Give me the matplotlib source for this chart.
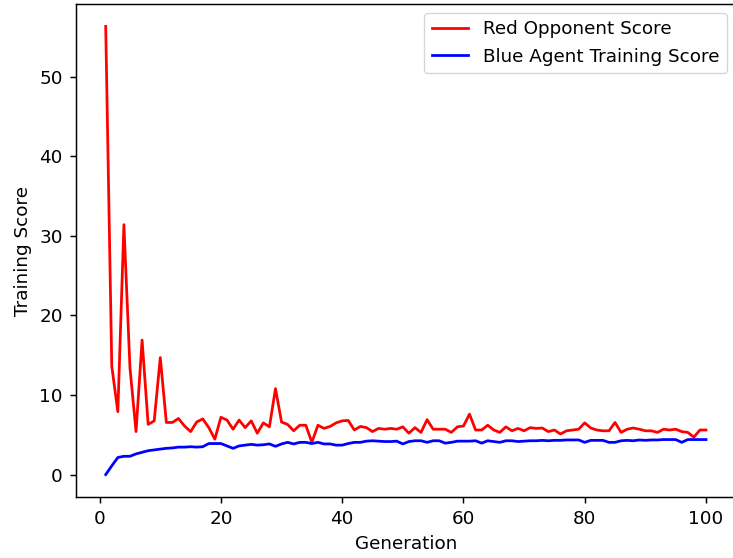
import matplotlib
matplotlib.use("Agg")
import matplotlib.pyplot as plt

generations = list(range(1, 101))

red_scores = [
    56.3, 13.6, 7.9, 31.4, 13.4, 5.4, 16.9, 6.3, 6.75, 14.7,
    6.55, 6.55, 7.05, 6.1, 5.4, 6.6, 7.0, 5.9, 4.45, 7.2,
    6.85, 5.7, 6.85, 5.9, 6.75, 5.2, 6.5, 6.0, 10.8, 6.6,
    6.3, 5.5, 6.2, 6.2, 4.05, 6.2, 5.8, 6.05, 6.5, 6.75,
    6.8, 5.6, 6.05, 5.9, 5.4, 5.8, 5.7, 5.8, 5.7, 6.0,
    5.2, 5.9, 5.3, 6.9, 5.7, 5.7, 5.7, 5.3, 6.0, 6.1,
    7.6, 5.6, 5.6, 6.2, 5.6, 5.3, 6.0, 5.5, 5.8, 5.5,
    5.9, 5.8, 5.85, 5.4, 5.6, 5.1, 5.5, 5.6, 5.7, 6.5,
    5.85, 5.6, 5.5, 5.5, 6.55, 5.3, 5.7, 5.85, 5.7, 5.5,
    5.5, 5.3, 5.7, 5.6, 5.7, 5.4, 5.3, 4.7, 5.6, 5.6,
]

blue_scores = [
    0.0, 1.1, 2.15, 2.3, 2.3, 2.6, 2.8, 3.0, 3.1, 3.2,
    3.3, 3.35, 3.45, 3.45, 3.5, 3.45, 3.5, 3.9, 3.9, 3.9,
    3.6, 3.3, 3.6, 3.7, 3.8, 3.7, 3.75, 3.85, 3.55, 3.85,
    4.05, 3.85, 4.05, 4.05, 3.9, 4.05, 3.85, 3.85, 3.7, 3.7,
    3.9, 4.05, 4.05, 4.2, 4.25, 4.2, 4.15, 4.15, 4.2, 3.85,
    4.15, 4.25, 4.25, 4.05, 4.25, 4.25, 3.95, 4.05, 4.2, 4.2,
    4.2, 4.25, 3.95, 4.25, 4.15, 4.05, 4.25, 4.25, 4.15, 4.2,
    4.25, 4.25, 4.3, 4.25, 4.3, 4.3, 4.35, 4.35, 4.35, 4.05,
    4.3, 4.3, 4.3, 4.05, 4.05, 4.25, 4.3, 4.25, 4.35, 4.3,
    4.35, 4.35, 4.4, 4.4, 4.4, 4.05, 4.4, 4.4, 4.4, 4.4,
]

W, H = 733, 558
s = 1.32
fig = plt.figure(figsize=(W / 100, H / 100), dpi=100)
left, right, top, bottom = 75.7, 736, 4, 497
ax = fig.add_axes([left / W, (H - bottom) / H, (right - left) / W, (bottom - top) / H])

ax.plot(generations, red_scores, color="red", lw=1.5 * s, label="Red Opponent Score")
ax.plot(generations, blue_scores, color="blue", lw=1.5 * s, label="Blue Agent Training Score")

ax.set_xlabel("Generation", fontsize=10 * s, labelpad=4 * s)
ax.set_ylabel("Training Score", fontsize=10 * s, labelpad=4 * s)
ax.tick_params(labelsize=10 * s, length=3.5 * s, width=0.8 * s, pad=3.5 * s)
for sp in ax.spines.values():
    sp.set_linewidth(0.8 * s)
ax.legend(loc="upper right", fontsize=10 * s)

fig.savefig("out.png", dpi=100)
